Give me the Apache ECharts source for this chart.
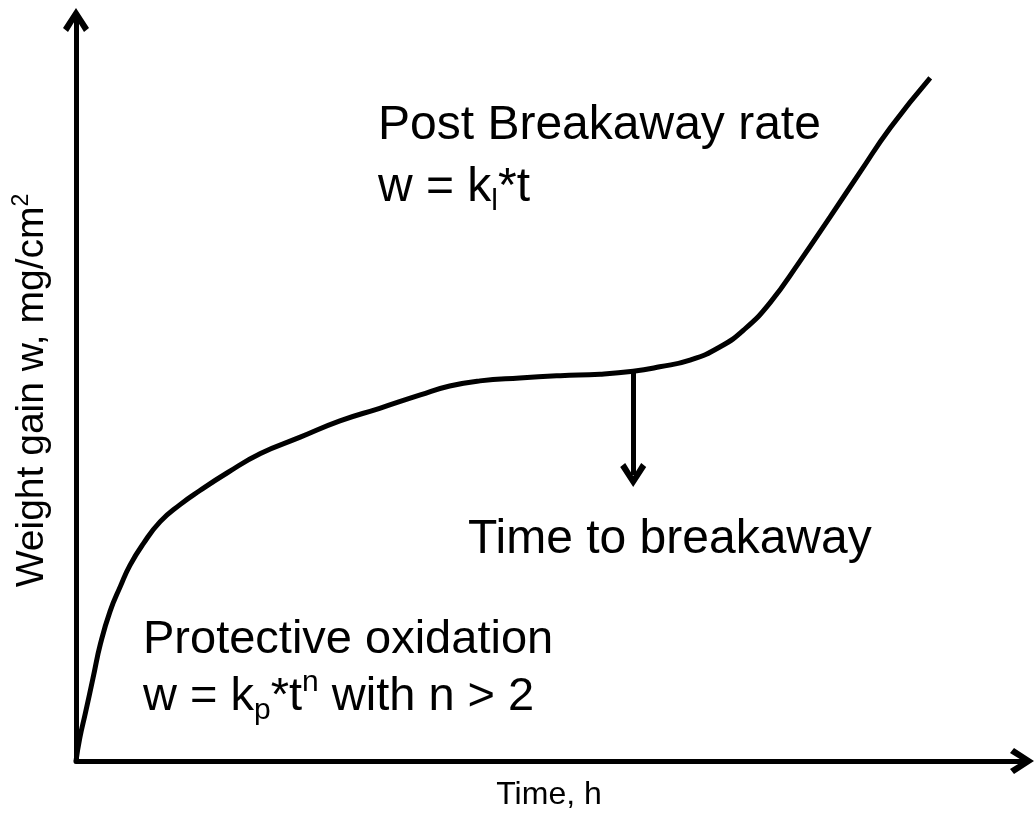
<!DOCTYPE html>
<html>
<head>
<meta charset="utf-8">
<title>Breakaway oxidation</title>
<script src="https://cdn.jsdelivr.net/npm/echarts@6/dist/echarts.min.js"></script>
<style>
  html, body { margin: 0; padding: 0; background: #fff; }
  #chart { width: 1036px; height: 816px; }
</style>
</head>
<body>
<div id="chart"></div>
<script>
// time (arbitrary units) and weight gain (arbitrary units)
const times = [0, 0.4, 1.0, 1.8, 2.6, 3.6, 4.7, 5.7, 7.1, 8.9, 11.0, 13.1, 16.0, 19.5,
  23.7, 27.9, 32.1, 36.4, 39.5, 42.7, 46.9, 51.2, 55.4, 58.9, 61.7, 64.9, 68.1, 70.7,
  73.4, 76.5, 79.7, 82.9, 86.1, 90.3];
const weights = [0, 3.1, 6.5, 11.2, 15.9, 20.2, 23.6, 26.4, 29.3, 32.3, 34.6, 36.5, 38.9, 41.5,
  43.7, 45.9, 47.6, 49.4, 50.6, 51.3, 51.7, 52.0, 52.2, 52.6, 53.2, 54.1, 55.9, 58.3,
  61.9, 67.4, 73.4, 79.5, 85.5, 92.2];
// breakaway point and where the arrow ends
const breakaway = [58.9, 52.6];
const arrowEnd = [58.9, 38.6];

const FONT = "'Liberation Sans', Arial, sans-serif";
// open chevron, pointing up (used for axis ends and the breakaway arrow)
const chevron = "path://M13,0 L26,20 L21,24 L13,11 L5,24 L0,20 Z";

let chart = echarts.init(document.getElementById("chart"));

let curve = times.map((t, i) => [t, weights[i]]);

let axisCommon = {
  type: "value",
  min: 0,
  max: 100,
  axisTick: { show: false },
  axisLabel: { show: false },
  splitLine: { show: false },
  axisLine: {
    show: true,
    symbol: ["none", chevron],
    symbolSize: [26, 24],
    lineStyle: { color: "#000", width: 5 },
  },
};

let option = {
  animation: false,
  backgroundColor: "#fff",
  grid: { left: 76, right: 14, top: 20, bottom: 53 },
  xAxis: Object.assign({}, axisCommon, {
    name: "Time, h",
    nameLocation: "middle",
    nameGap: 18,
    nameTextStyle: {
      fontFamily: FONT,
      fontSize: 32,
      color: "#000",
      verticalAlign: "top",
    },
  }),
  yAxis: Object.assign({}, axisCommon, {
    name: "Weight gain w, mg/cm{sup|2}",
    nameLocation: "middle",
    nameGap: 22,
    nameTextStyle: {
      fontFamily: FONT,
      fontSize: 39,
      color: "#000",
      lineHeight: 44,
      rich: {
        sup: { fontFamily: FONT, fontSize: 23, color: "#000", verticalAlign: "top", lineHeight: 20 },
      },
    },
  }),
  series: [
    {
      type: "line",
      data: curve,
      smooth: 0.5,
      showSymbol: false,
      lineStyle: { color: "#000", width: 5 },
      markLine: {
        silent: true,
        symbol: ["none", chevron],
        symbolSize: [26, 24],
        label: { show: false },
        lineStyle: { color: "#000", width: 5, type: "solid" },
        data: [[{ coord: breakaway }, { coord: arrowEnd }]],
      },
    },
  ],
  graphic: [
    {
      type: "text",
      x: 378,
      y: 126,
      style: { text: "Post Breakaway rate", font: "48px " + FONT, fill: "#000", verticalAlign: "middle" },
    },
    {
      type: "text",
      x: 378,
      y: 188,
      style: {
        text: "w = k{sub|l}*t",
        font: "48px " + FONT,
        fill: "#000",
        verticalAlign: "middle",
        lineHeight: 58,
        rich: {
          sub: { font: "30px " + FONT, fill: "#000", verticalAlign: "bottom", lineHeight: 24 },
        },
      },
    },
    {
      type: "text",
      x: 468,
      y: 540,
      style: { text: "Time to breakaway", font: "48px " + FONT, fill: "#000", verticalAlign: "middle" },
    },
    {
      type: "text",
      x: 143,
      y: 640,
      style: { text: "Protective oxidation", font: "47px " + FONT, fill: "#000", verticalAlign: "middle" },
    },
    {
      type: "text",
      x: 143,
      y: 697,
      style: {
        text: "w = k{sub|p}*t{sup|n} with n > 2",
        font: "47px " + FONT,
        fill: "#000",
        verticalAlign: "middle",
        lineHeight: 58,
        rich: {
          sub: { font: "30px " + FONT, fill: "#000", verticalAlign: "bottom", lineHeight: 24 },
          sup: { font: "30px " + FONT, fill: "#000", verticalAlign: "top", lineHeight: 24 },
        },
      },
    },
  ],
};

chart.setOption(option);
</script>
</body>
</html>
